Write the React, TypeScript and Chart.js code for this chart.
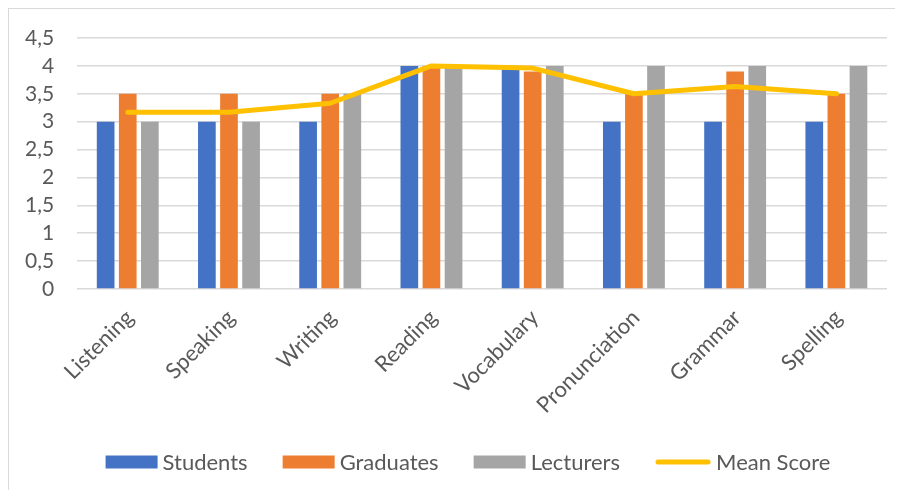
import React, { useEffect, useRef } from "react";
import { Chart, registerables } from "chart.js";

Chart.register(...registerables);

const categories = [
  "Listening",
  "Speaking",
  "Writing",
  "Reading",
  "Vocabulary",
  "Pronunciation",
  "Grammar",
  "Spelling",
];
const students = [3, 3, 3, 4, 3.94, 3, 3, 3];
const graduates = [3.5, 3.5, 3.5, 4, 3.9, 3.5, 3.9, 3.5];
const lecturers = [3, 3, 3.5, 4, 4, 4, 4, 4];
const meanScore = [3.17, 3.17, 3.33, 4, 3.96, 3.5, 3.63, 3.5];
const yMin = 0;
const yMax = 4.5;
const yStep = 0.5;

const FONT = "Lato, 'Noto Sans', sans-serif";
const TEXT = "#595959";
const BLUE = "#4472C4";
const ORANGE = "#ED7D31";
const GRAY = "#A5A5A5";
const GOLD = "#FFC000";

// Category names, slanted 45°, ending just under each category centre
const slantedCategoryLabels = {
  id: "slantedCategoryLabels",
  afterDraw(chart: Chart) {
    const ctx = chart.ctx;
    const xScale: any = chart.scales.x;
    const labels = chart.data.labels as string[];
    const y0 = chart.chartArea.bottom + 25;
    ctx.save();
    ctx.font = `22px ${FONT}`;
    ctx.fillStyle = TEXT;
    ctx.textAlign = "right";
    ctx.textBaseline = "middle";
    labels.forEach((label, i) => {
      const x = xScale.getPixelForTick(i) + 2;
      ctx.save();
      ctx.translate(x, y0);
      ctx.rotate(-Math.PI / 4);
      ctx.fillText(label, 0, 0);
      ctx.restore();
    });
    ctx.restore();
  },
};

// Legend row drawn under the category labels: swatch, label, swatch, label...
const bottomLegend = {
  id: "bottomLegend",
  afterDraw(chart: Chart) {
    const ctx = chart.ctx;
    const items = chart.data.datasets.map((ds: any) => ({
      text: ds.label as string,
      color: (ds.type === "line" ? ds.borderColor : ds.backgroundColor) as string,
      line: ds.type === "line",
    }));
    const boxW = 52;
    const lineW = 56;
    const boxH = 13;
    const gapText = 5;
    const gapItem = 35;
    ctx.save();
    ctx.font = `22px ${FONT}`;
    const widths = items.map(
      (it) => (it.line ? lineW : boxW) + gapText + ctx.measureText(it.text).width
    );
    const total = widths.reduce((a, b) => a + b, 0) + gapItem * (items.length - 1);
    const cy = chart.height - 28;
    let x = 98 + (722 - total) / 2;
    items.forEach((it, i) => {
      if (it.line) {
        ctx.strokeStyle = it.color;
        ctx.lineWidth = 5;
        ctx.lineCap = "round";
        ctx.beginPath();
        ctx.moveTo(x + 3, cy);
        ctx.lineTo(x + lineW - 3, cy);
        ctx.stroke();
      } else {
        ctx.fillStyle = it.color;
        ctx.fillRect(x, cy - boxH / 2, boxW, boxH);
      }
      const sw = it.line ? lineW : boxW;
      ctx.fillStyle = TEXT;
      ctx.textAlign = "left";
      ctx.textBaseline = "middle";
      ctx.fillText(it.text, x + sw + gapText, cy + 1);
      x += widths[i] + gapItem;
    });
    ctx.restore();
  },
};

function ScoreChart() {
  const canvasRef = useRef<HTMLCanvasElement | null>(null);

  useEffect(() => {
    if (!canvasRef.current) return;
    const barCommon = {
      type: "bar" as const,
      categoryPercentage: 0.655,
      barPercentage: 0.8,
      borderWidth: 0,
      order: 1,
    };
    const chart = new Chart(canvasRef.current, {
      type: "bar",
      data: {
        labels: categories,
        datasets: [
          { ...barCommon, label: "Students", data: students, backgroundColor: BLUE },
          { ...barCommon, label: "Graduates", data: graduates, backgroundColor: ORANGE },
          { ...barCommon, label: "Lecturers", data: lecturers, backgroundColor: GRAY },
          {
            type: "line" as const,
            label: "Mean Score",
            data: meanScore,
            borderColor: GOLD,
            backgroundColor: GOLD,
            borderWidth: 5,
            borderCapStyle: "round",
            borderJoinStyle: "round",
            pointRadius: 0,
            tension: 0,
            order: 0,
          } as any,
        ],
      },
      options: {
        animation: false,
        responsive: false,
        maintainAspectRatio: false,
        layout: { autoPadding: false, padding: { left: -7, right: 16, top: 29, bottom: 201 } },
        plugins: {
          legend: { display: false },
          tooltip: { enabled: false },
          title: { display: false },
        },
        scales: {
          x: {
            grid: { display: false, drawTicks: false },
            border: { display: false },
            ticks: { display: false },
          },
          y: {
            min: yMin,
            max: yMax,
            grid: { color: "#D9D9D9", lineWidth: 1.5, drawTicks: false },
            border: { display: false },
            afterFit: (scale: any) => {
              scale.paddingTop = 0;
              scale.paddingBottom = 0;
            },
            ticks: {
              stepSize: yStep,
              autoSkip: false,
              padding: 23,
              color: TEXT,
              font: { family: FONT, size: 21 },
              callback: (v: any) => String(v).replace(".", ","),
            },
          },
        },
      },
      plugins: [slantedCategoryLabels, bottomLegend],
    });
    return () => chart.destroy();
  }, []);

  return <canvas ref={canvasRef} width={894} height={481} style={{ display: "block" }} />;
}

export default function App() {
  return (
    <div
      style={{
        width: 895,
        height: 482,
        boxSizing: "border-box",
        borderTop: "1px solid #D9D9D9",
        borderLeft: "1px solid #D9D9D9",
        background: "#FFFFFF",
        overflow: "hidden",
      }}
    >
      <ScoreChart />
    </div>
  );
}
